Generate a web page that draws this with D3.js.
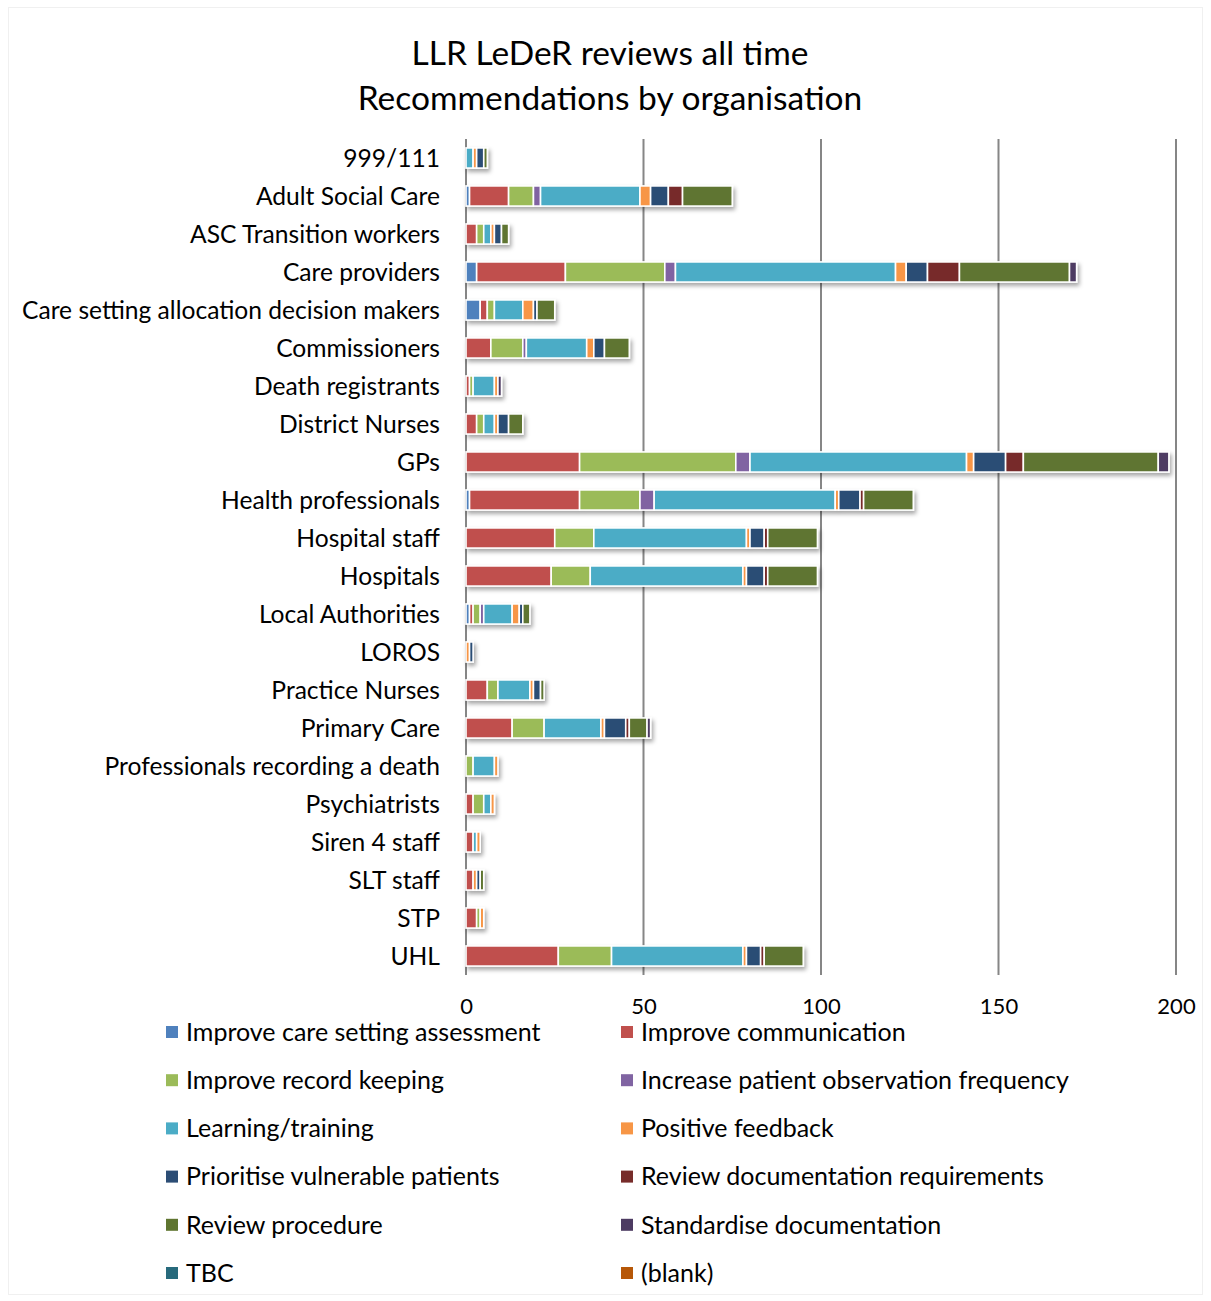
<!DOCTYPE html>
<html>
<head>
<meta charset="utf-8">
<script src="https://cdn.jsdelivr.net/npm/d3@7"></script>
<style>
  html, body { margin: 0; padding: 0; background: #fff; }
  svg { display: block; font-family: Lato, "Open Sans", sans-serif; }
</style>
</head>
<body>
<svg id="chart" width="1211" height="1301"></svg>
<script>
// Organisations (top to bottom)
const categories = [
  "999/111", "Adult Social Care", "ASC Transition workers", "Care providers",
  "Care setting allocation decision makers", "Commissioners", "Death registrants",
  "District Nurses", "GPs", "Health professionals", "Hospital staff", "Hospitals",
  "Local Authorities", "LOROS", "Practice Nurses", "Primary Care",
  "Professionals recording a death", "Psychiatrists", "Siren 4 staff",
  "SLT staff", "STP", "UHL"
];

// Recommendation types (stack order)
const seriesNames = [
  "Improve care setting assessment", "Improve communication", "Improve record keeping",
  "Increase patient observation frequency", "Learning/training", "Positive feedback",
  "Prioritise vulnerable patients", "Review documentation requirements",
  "Review procedure", "Standardise documentation", "TBC", "(blank)"
];

const seriesColors = [
  "#4F81BD", "#C0504D", "#9BBB59", "#8064A2", "#4BACC6", "#F79646",
  "#2C4D75", "#772C2A", "#5F7530", "#4D3B62", "#276A7C", "#B65708"
];

// Counts per series, one value per organisation (same order as categories)
const improveCareSetting   = [0, 1, 0, 3, 4, 0, 0, 0, 0, 1, 0, 0, 1, 0, 0, 0, 0, 0, 0, 0, 0, 0];
const improveCommunication = [0, 11, 3, 25, 2, 7, 1, 3, 32, 31, 25, 24, 1, 0, 6, 13, 0, 2, 2, 2, 3, 26];
const improveRecordKeeping = [0, 7, 2, 28, 2, 9, 1, 2, 44, 17, 11, 11, 2, 0, 3, 9, 2, 3, 0, 0, 1, 15];
const increaseObservation  = [0, 2, 0, 3, 0, 1, 0, 0, 4, 4, 0, 0, 1, 0, 0, 0, 0, 0, 0, 0, 0, 0];
const learningTraining     = [2, 28, 2, 62, 8, 17, 6, 3, 61, 51, 43, 43, 8, 0, 9, 16, 6, 2, 1, 0, 0, 37];
const positiveFeedback     = [1, 3, 1, 3, 3, 2, 1, 1, 2, 1, 1, 1, 2, 1, 1, 1, 1, 1, 1, 1, 1, 1];
const prioritiseVulnerable = [2, 5, 2, 6, 1, 3, 0, 3, 9, 6, 4, 5, 1, 1, 2, 6, 0, 0, 0, 1, 0, 4];
const reviewDocumentation  = [0, 4, 0, 9, 0, 0, 0, 0, 5, 1, 1, 1, 0, 0, 0, 1, 0, 0, 0, 0, 0, 1];
const reviewProcedure      = [1, 14, 2, 31, 5, 7, 0, 4, 38, 14, 14, 14, 2, 0, 1, 5, 0, 0, 0, 1, 0, 11];
const standardiseDocs      = [0, 0, 0, 2, 0, 0, 1, 0, 3, 0, 0, 0, 0, 0, 0, 1, 0, 0, 0, 0, 0, 0];
const tbc                  = [0, 0, 0, 0, 0, 0, 0, 0, 0, 0, 0, 0, 0, 0, 0, 0, 0, 0, 0, 0, 0, 0];
const blank                = [0, 0, 0, 0, 0, 0, 0, 0, 0, 0, 0, 0, 0, 0, 0, 0, 0, 0, 0, 0, 0, 0];

const xTicks = [0, 50, 100, 150, 200];
const titleLines = ["LLR LeDeR reviews all time", "Recommendations by organisation"];

const seriesValues = [
  improveCareSetting, improveCommunication, improveRecordKeeping, increaseObservation,
  learningTraining, positiveFeedback, prioritiseVulnerable, reviewDocumentation,
  reviewProcedure, standardiseDocs, tbc, blank
];

// Table for d3.stack: one row per organisation
const rows = categories.map((c, i) => {
  const r = { category: c };
  seriesNames.forEach((s, j) => { r[s] = seriesValues[j][i]; });
  return r;
});

const svg = d3.select("#chart");
const W = 1211, H = 1301;

// Outer chart border
svg.append("rect")
  .attr("x", 8.5).attr("y", 7.5).attr("width", W - 17).attr("height", H - 14)
  .attr("fill", "#fff").attr("stroke", "#f0f0f0").attr("stroke-width", 1);

// Drop shadow for the bars
const defs = svg.append("defs");
const f = defs.append("filter").attr("id", "shadow")
  .attr("x", "-5%").attr("y", "-30%").attr("width", "115%").attr("height", "190%");
f.append("feDropShadow").attr("dx", 2).attr("dy", 3).attr("stdDeviation", 2)
  .attr("flood-color", "#000").attr("flood-opacity", 0.35);

const x = d3.scaleLinear().domain([0, 200]).range([466, 1176]);
const y = d3.scaleBand().domain(categories).range([139, 975])
  .paddingInner(0.47).paddingOuter(0.235);
const color = d3.scaleOrdinal().domain(seriesNames).range(seriesColors);

// Title
svg.append("g").selectAll("text").data(titleLines).join("text")
  .attr("x", 610).attr("y", (d, i) => 65 + i * 45)
  .attr("text-anchor", "middle")
  .attr("font-size", 33.5).attr("fill", "#000")
  .text(d => d);

// Vertical gridlines
svg.append("g").selectAll("line").data(xTicks).join("line")
  .attr("x1", d => x(d)).attr("x2", d => x(d))
  .attr("y1", 139).attr("y2", 975)
  .attr("stroke", "#868686").attr("stroke-width", 2);

// Bars
const stacked = d3.stack().keys(seriesNames)(rows);
const barsG = svg.append("g").attr("filter", "url(#shadow)");
barsG.selectAll("g").data(stacked).join("g")
  .attr("fill", d => color(d.key))
  .selectAll("rect").data(d => d.filter(p => p[1] - p[0] > 0)).join("rect")
  .attr("x", p => x(p[0]))
  .attr("y", p => y(p.data.category))
  .attr("width", p => x(p[1]) - x(p[0]))
  .attr("height", y.bandwidth())
  .attr("stroke", "#fff").attr("stroke-width", 1.6);

// Category axis labels
svg.append("g").selectAll("text").data(categories).join("text")
  .attr("x", 440).attr("y", d => y(d) + y.bandwidth() / 2)
  .attr("dy", "0.35em").attr("text-anchor", "end")
  .attr("font-size", 24.6).attr("fill", "#000")
  .text(d => d);

// Value axis
const xAxis = d3.axisBottom(x).tickValues(xTicks).tickSize(0).tickPadding(0);
const axG = svg.append("g").attr("transform", "translate(0,1014)").call(xAxis);
axG.select(".domain").remove();
axG.selectAll("text").attr("font-size", 22).attr("fill", "#000")
  .attr("font-family", "Lato, 'Open Sans', sans-serif").attr("dy", 0);

// Legend: two columns
const legend = svg.append("g").selectAll("g").data(seriesNames).join("g")
  .attr("transform", (d, i) => `translate(${i % 2 === 0 ? 166 : 621},${1032 + Math.floor(i / 2) * 48.2})`);
legend.append("rect")
  .attr("x", 0).attr("y", -6).attr("width", 12).attr("height", 12)
  .attr("fill", d => color(d));
legend.append("text")
  .attr("x", 20).attr("y", 0).attr("dy", "0.35em")
  .attr("font-size", 25).attr("fill", "#000")
  .text(d => d);
</script>
</body>
</html>
